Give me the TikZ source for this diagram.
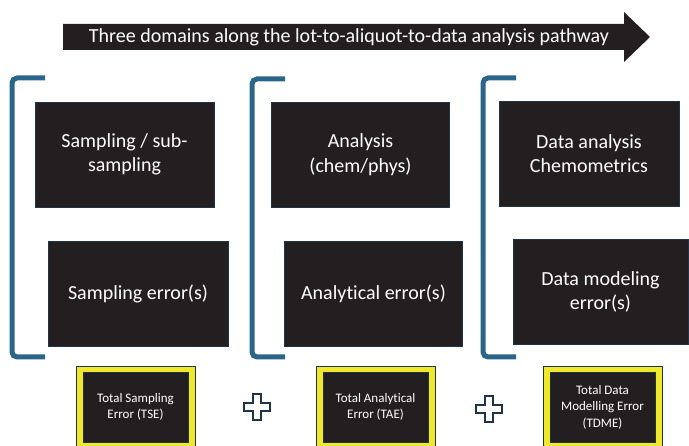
\documentclass[tikz,border=0pt]{standalone}
\usepackage{fontspec}
\setmainfont[Ligatures=NoCommon]{Carlito}
\usepackage{xcolor}
\usepackage{tikz}
\usetikzlibrary{positioning,calc}

\definecolor{boxdark}{HTML}{231F20}
\definecolor{boxedge}{HTML}{1F3447}
\definecolor{brackblue}{HTML}{2A6689}
\definecolor{hiyellow}{HTML}{F0E82A}

\tikzset{
    domainbox/.style={draw=boxedge, fill=boxdark, text=white, line width=0.8pt,
        minimum height=105pt, align=center, inner sep=2pt,
        font=\fontsize{20}{24.5}\selectfont},
    totalbox/.style={draw=boxedge, fill=boxdark, text=white, line width=0.8pt,
        minimum width=105pt, minimum height=70pt, align=center, inner sep=2pt,
        font=\fontsize{13}{16.5}\selectfont},
    yellowframe/.style={draw=boxedge, fill=hiyellow, line width=0.8pt},
    bracket/.style={draw=brackblue, line width=5pt, rounded corners=5pt},
    plussign/.style={draw=boxedge, fill=white, line width=1.4pt}
}

\begin{document}
\begin{tikzpicture}[x=1pt, y=-1pt]
    \useasboundingbox (0,0) rectangle (689,446);

    % Pathway arrow on top
    \fill[boxdark] (63,24) -- (624,24) -- (624,12) -- (650,37) -- (624,62)
        -- (624,50) -- (63,50) -- cycle;
    \node[text=white, font=\fontsize{20}{24}\selectfont] (pathway) at (349,37.5)
        {Three domains along the lot-to-aliquot-to-data analysis pathway};

    % Brackets round the three domains
    \foreach \bx/\by in {12/78, 252/79, 483/78} {
        \draw[bracket] (\bx+33,\by) -- (\bx,\by) -- (\bx,357) -- (\bx+33,357);
    }

    % Domain boxes
    \node[domainbox, minimum width=179pt] (sampling) at (124.5,154.5)
        {Sampling / sub-\\sampling};
    \node[domainbox, minimum width=180pt] (samplingerr) at (138,293.5)
        {Sampling error(s)};

    \node[domainbox, minimum width=178pt] (analysis) at (360.5,154.5)
        {Analysis\\(chem/phys)};
    \node[domainbox, minimum width=178pt] (analysiserr) at (373.5,293.5)
        {Analytical error(s)};

    \node[domainbox, minimum width=180pt] (dataanalysis) at (589,153.5)
        {Data analysis\\Chemometrics};
    \node[domainbox, minimum width=175pt] (modelerr) at (600.5,292)
        {Data modeling\\error(s)};

    % Total error boxes (yellow frames)
    \foreach \cx in {135.5, 375.5, 602.5} {
        \draw[yellowframe] (\cx-59.5,366) rectangle (\cx+59.5,448);
    }
    \node[totalbox] (tse) at (135.5,407) {Total Sampling\\Error (TSE)};
    \node[totalbox] (tae) at (375.5,407) {Total Analytical\\Error (TAE)};
    \node[totalbox] (tdme) at (602.5,407) {Total Data\\Modelling Error\\(TDME)};

    % Plus signs between the totals
    \foreach \px/\py in {257/407, 489/409} {
        \draw[plussign] (\px-4,\py-13) -- (\px+4,\py-13) -- (\px+4,\py-4)
            -- (\px+13,\py-4) -- (\px+13,\py+4) -- (\px+4,\py+4) -- (\px+4,\py+13)
            -- (\px-4,\py+13) -- (\px-4,\py+4) -- (\px-13,\py+4) -- (\px-13,\py-4)
            -- (\px-4,\py-4) -- cycle;
    }

\end{tikzpicture}
\end{document}
